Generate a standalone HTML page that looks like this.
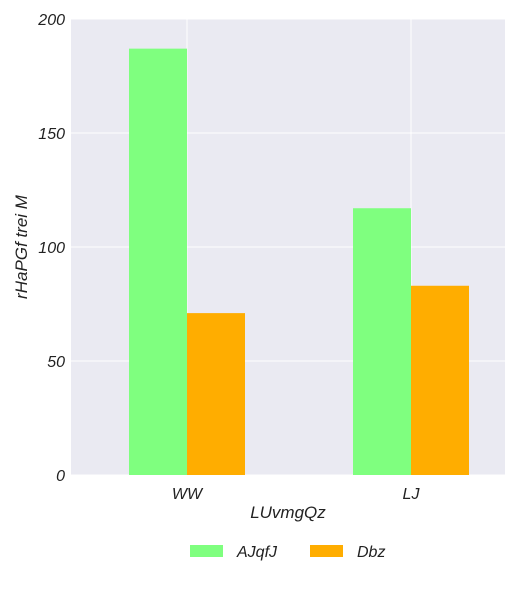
<!DOCTYPE html>
<html><head><meta charset="utf-8"><style>
body{margin:0;background:#fff;}
svg text{font-family:"Liberation Sans",sans-serif;font-style:italic;fill:#222;}
</style></head><body>
<svg id="c" width="518" height="592"></svg>
<script>
const categories=["WW","LJ"];
const seriesNames=["AJqfJ","Dbz"];
const seriesA=[187,117];
const seriesB=[71,83];
const yTicks=[0,50,100,150,200];
const colors=["#7fff7f","#ffad00"];
const svg=document.getElementById('c');
const NS="http://www.w3.org/2000/svg";
const L=71,R=505,T=19,B=475,yMax=200;
const y=v=>B-(v/yMax)*(B-T);
const step=224, first=116;
const xc=i=>L+first+step*i;
const bw=58;
function el(t,a,p){const e=document.createElementNS(NS,t);for(const k in a)e.setAttribute(k,a[k]);(p||svg).appendChild(e);return e;}
const bg=el('rect',{x:L,y:T,width:R-L,height:B-T,fill:'#eaeaf2'});


yTicks.forEach(v=>{
  const g=el('line',{x1:L,x2:R,y1:y(v),y2:y(v),stroke:'#fff','stroke-width':1});
  
  
  const t=el('text',{x:L-6,y:y(v)+6,'text-anchor':'end','font-size':16});
  t.textContent=v;
  
  
});
categories.forEach((c,i)=>{
  const g=el('line',{x1:xc(i),x2:xc(i),y1:T,y2:B,stroke:'#fff','stroke-width':1});
  
  
  const t=el('text',{x:xc(i),y:B+24,'text-anchor':'middle','font-size':16});
  t.textContent=c;
  
  
});
[seriesA,seriesB].forEach((s,si)=>{
  s.forEach((v,i)=>{
    const r=el('rect',{x:xc(i)-bw+si*bw,y:y(v),width:bw,height:B-y(v),fill:colors[si]});
    
    
  });
});
const xt=el('text',{x:(L+R)/2,y:518,'text-anchor':'middle','font-size':17});
xt.textContent="LUvmgQz";


const yt=el('text',{x:0,y:0,'text-anchor':'middle','font-size':17,transform:`translate(27,${(T+B)/2}) rotate(-90)`});
yt.textContent="rHaPGf trei M";


const lx=[190,310];
seriesNames.forEach((n,i)=>{
  const g=el('g',{});
  
  
  el('rect',{x:lx[i],y:545,width:33,height:12,fill:colors[i]},g);
  const t=el('text',{x:lx[i]+47,y:557,'font-size':16},g);
  t.textContent=n;
});
</script>
</body></html>
